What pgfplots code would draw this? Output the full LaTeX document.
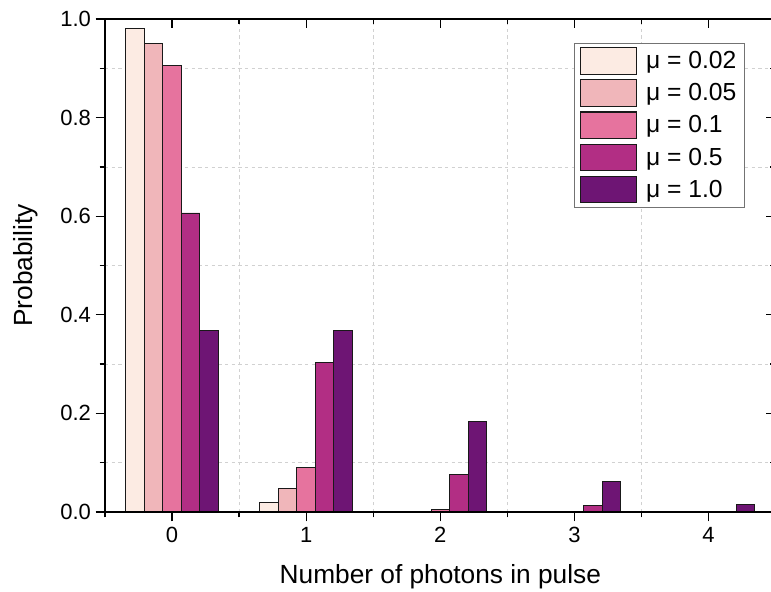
\documentclass[border=0pt]{standalone}
\usepackage{fontspec}
\setmainfont{Liberation Sans}
\usepackage{pgfplots}
\pgfplotsset{compat=1.18}
\definecolor{cA}{HTML}{FCEBE3}
\definecolor{cB}{HTML}{F0B6BA}
\definecolor{cC}{HTML}{E6739E}
\definecolor{cD}{HTML}{B22E84}
\definecolor{cE}{HTML}{6E1574}
\begin{document}
\begin{tikzpicture}
\path[use as bounding box] (-78.75pt,-60pt) rectangle (499.5pt,384pt);
\begin{axis}[
  at={(0,0)}, anchor=south west,
  scale only axis, width=503pt, height=369.75pt,
  xmin=-0.5, xmax=4.5, ymin=0, ymax=1,
  ybar, bar width=0.138,
  xtick={0,1,2,3,4}, ytick={0,0.2,0.4,0.6,0.8,1.0},
  minor xtick={-0.5,0.5,1.5,2.5,3.5},
  minor ytick={0.1,0.3,0.5,0.7,0.9},
  xminorgrids=true, yminorgrids=true,
  minor grid style={black!18, dash pattern=on 2.5pt off 2.5pt, line width=0.5pt},
  tick align=outside, xtick pos=left, ytick pos=left,
  major tick length=7pt, minor tick length=4pt,
  every tick/.style={black, line width=1pt},
  axis line style={line width=1.2pt},
  /pgf/number format/assume math mode=true,
  yticklabel style={/pgf/number format/.cd, fixed, fixed zerofill, precision=1},
  ticklabel style={font=\fontsize{16.5}{19}\selectfont},
  xticklabel shift=1pt,
  xlabel={Number of photons in pulse},
  ylabel={Probability},
  label style={font=\fontsize{19.7}{23}\selectfont},
  xlabel style={at={(axis description cs:0.5,-0.1318)}, anchor=center},
  ylabel style={at={(axis description cs:-0.1178,0.5)}, anchor=center},
  legend image code/.code={\draw[#1, line width=0.8pt] (0pt,-10pt) rectangle (42pt,10pt);},
  legend style={at={(rel axis cs:0.9542,0.952)}, anchor=north east,
    draw=black!55, line width=0.8pt, font=\fontsize{18.5}{21}\selectfont,
    row sep=3.3pt, inner xsep=4pt, inner ysep=3pt,
    /tikz/every odd column/.append style={column sep=5pt}},
  legend cell align=left,
]
\addplot[fill=cA, draw=black!90, line width=0.7pt, bar shift=-0.276]
  coordinates {(0,0.9802) (1,0.0196) (2,0.0002) (3,0) (4,0)};
\addlegendentry{μ = 0.02}
\addplot[fill=cB, draw=black!90, line width=0.7pt, bar shift=-0.138]
  coordinates {(0,0.9512) (1,0.0476) (2,0.0012) (3,0.00002) (4,0)};
\addlegendentry{μ = 0.05}
\addplot[fill=cC, draw=black!90, line width=0.7pt, bar shift=0]
  coordinates {(0,0.9048) (1,0.0905) (2,0.0045) (3,0.00015) (4,0.000004)};
\addlegendentry{μ = 0.1}
\addplot[fill=cD, draw=black!90, line width=0.7pt, bar shift=0.138]
  coordinates {(0,0.6065) (1,0.3033) (2,0.0758) (3,0.0126) (4,0.0016)};
\addlegendentry{μ = 0.5}
\addplot[fill=cE, draw=black!90, line width=0.7pt, bar shift=0.276]
  coordinates {(0,0.3679) (1,0.3679) (2,0.1839) (3,0.0613) (4,0.0153)};
\addlegendentry{μ = 1.0}
\end{axis}
\begin{axis}[
  at={(0,0)}, anchor=south west,
  scale only axis, width=503pt, height=369.75pt,
  xmin=-0.5, xmax=4.5, ymin=0, ymax=1,
  xtick={0,1,2,3,4}, ytick={0,0.2,0.4,0.6,0.8,1.0},
  minor xtick={-0.5,0.5,1.5,2.5,3.5},
  minor ytick={0.1,0.3,0.5,0.7,0.9},
  tick align=inside, xtick pos=right, ytick pos=right,
  major tick length=7pt, minor tick length=4pt,
  every tick/.style={black, line width=1pt},
  axis line style={line width=1.2pt},
  xticklabels={}, yticklabels={},
]
\end{axis}
\end{tikzpicture}
\end{document}
